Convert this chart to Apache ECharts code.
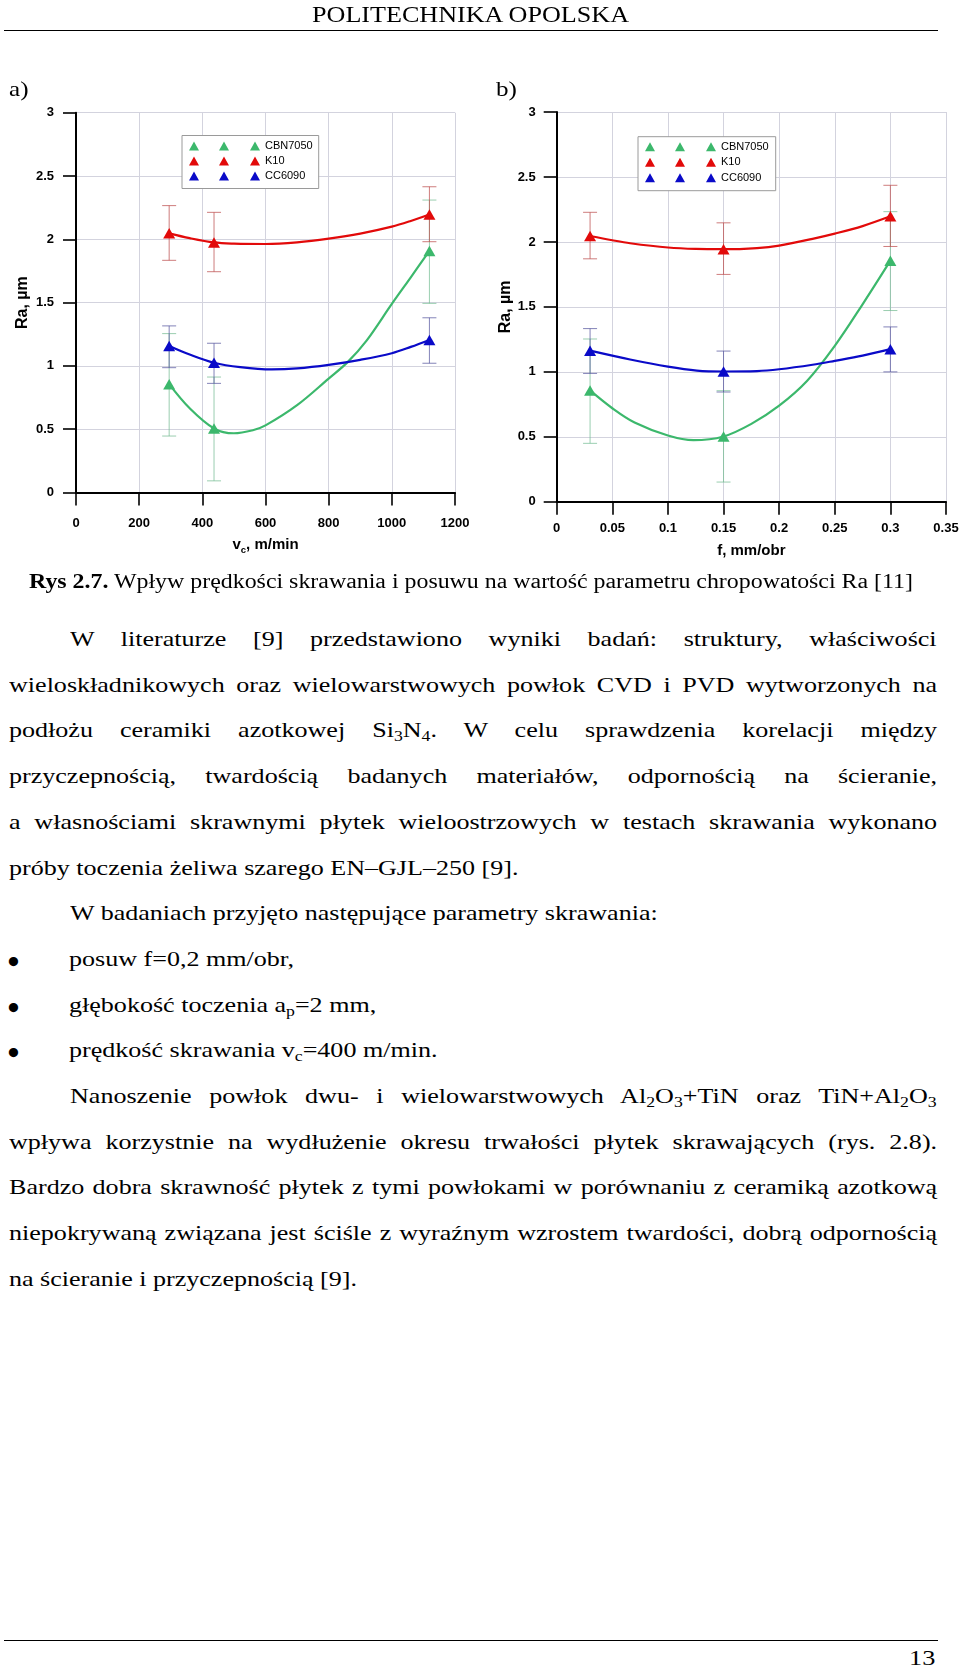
<!DOCTYPE html>
<html>
<head>
<meta charset="utf-8">
<script src="https://cdn.jsdelivr.net/npm/echarts@6/dist/echarts.min.js"></script>
<style>
  html, body { margin: 0; padding: 0; background: #fff; }
  #page { position: relative; width: 960px; height: 1668px; overflow: hidden; background: #fff;
          font-family: 'Liberation Serif', 'Times New Roman', serif; color: #000; }
  #chart { position: absolute; left: 0; top: 0; width: 960px; height: 600px; }
  .t { position: absolute; line-height: 1; white-space: nowrap; transform-origin: 0 0; }
  .t sub { font-size: 0.68em; vertical-align: -0.28em; line-height: 0; }
  .rule { position: absolute; background: #000; height: 1.3px; }
</style>
</head>
<body>
<div id="page">
  <div id="chart"></div>
  <div class="rule" style="left:4px; top:29.5px; width:934px;"></div>
  <div class="rule" style="left:4px; top:1640px; width:934px;"></div>
</div>
<script>
// ---------------- DATA ----------------
const seriesNames = ['CBN7050', 'K10', 'CC6090'];

// chart a) : Ra vs cutting speed vc [m/min]
const vcX = [295, 437, 1119];
const raVcCBN = [0.856, 0.506, 1.908];
const raVcK10 = [2.047, 1.975, 2.196];
const raVcCC  = [1.158, 1.025, 1.205];
const errVcCBN = [[0.446, 1.255], [0.092, 0.912], [1.494, 2.31]];
const errVcK10 = [[1.834, 2.266], [1.744, 2.213], [1.981, 2.415]];
const errVcCC  = [[0.986, 1.316], [0.862, 1.179], [1.021, 1.38]];
const curveVcCBN = [[295,0.856],[360,0.665],[437,0.506],[500,0.468],[560,0.492],[600,0.53],[700,0.69],[800,0.9],[860,1.03],[920,1.2],[1000,1.49],[1060,1.70],[1119,1.908]];
const curveVcK10 = [[295,2.047],[360,2.009],[437,1.975],[500,1.966],[600,1.963],[700,1.976],[800,2.005],[900,2.045],[1000,2.1],[1060,2.145],[1119,2.196]];
const curveVcCC  = [[295,1.158],[360,1.09],[437,1.025],[520,0.99],[620,0.972],[700,0.98],[800,1.008],[900,1.048],[1000,1.1],[1060,1.15],[1119,1.205]];

// chart b) : Ra vs feed f [mm/obr]
const fX = [0.03, 0.15, 0.3];
const raFCBN = [0.857, 0.503, 1.856];
const raFK10 = [2.046, 1.944, 2.197];
const raFCC  = [1.163, 1.003, 1.175];
const errFCBN = [[0.45, 1.253], [0.152, 0.855], [1.472, 2.233]];
const errFK10 = [[1.87, 2.228], [1.75, 2.147], [1.965, 2.436]];
const errFCC  = [[0.988, 1.333], [0.845, 1.16], [1.0, 1.346]];
const curveFCBN = [[0.03,0.857],[0.05,0.72],[0.07,0.61],[0.1,0.51],[0.123,0.474],[0.15,0.503],[0.175,0.6],[0.2,0.74],[0.225,0.93],[0.25,1.2],[0.275,1.52],[0.3,1.856]];
const curveFK10 = [[0.03,2.046],[0.05,2.013],[0.066,1.99],[0.1,1.957],[0.125,1.946],[0.15,1.944],[0.18,1.953],[0.2,1.972],[0.23,2.024],[0.25,2.064],[0.275,2.122],[0.3,2.197]];
const curveFCC  = [[0.03,1.163],[0.066,1.095],[0.1,1.04],[0.126,1.01],[0.15,1.003],[0.18,1.006],[0.2,1.02],[0.23,1.055],[0.25,1.085],[0.275,1.125],[0.3,1.175]];

// axis ticks
const vcTicks = { min: 0, max: 1200, interval: 200 };
const fTicks  = { min: 0, max: 0.35, interval: 0.05 };
const raTicks = { min: 0, max: 3, interval: 0.5 };

// ---------------- STYLE ----------------
const SANS = "'Liberation Sans', Arial, Helvetica, sans-serif";
const colors = { CBN7050: '#3cb86c', K10: '#e20a0a', CC6090: '#0a0ac8' };
const errColors = { CBN7050: 'rgba(120,190,150,0.75)', K10: 'rgba(190,80,80,0.75)', CC6090: 'rgba(90,90,160,0.75)' };
const plainNum = v => String(Math.round(v * 1000) / 1000);

function xAxisCfg(grid, t, name, nameGap, margin) {
  return {
    gridIndex: grid, type: 'value', min: t.min, max: t.max, interval: t.interval,
    name: name, nameLocation: 'middle', nameGap: nameGap,
    nameTextStyle: {
      rich: {
        b: { fontSize: 15, fontWeight: 'bold', fontFamily: SANS, color: '#000' },
        s: { fontSize: 9.5, fontWeight: 'bold', fontFamily: SANS, color: '#000', verticalAlign: 'bottom', padding: [0, 0, -3, 0] }
      }
    },
    axisLine: { show: true, onZero: false, lineStyle: { color: '#000', width: 2 } },
    axisTick: { show: true, inside: false, length: 13, lineStyle: { color: '#000', width: 1.6 } },
    axisLabel: { color: '#000', fontSize: 13, fontWeight: 'bold', fontFamily: SANS, margin: margin, formatter: plainNum },
    splitLine: { show: true, lineStyle: { color: '#d3d3de', width: 1 } }
  };
}
function yAxisCfg(grid, t, nameGap, margin) {
  return {
    gridIndex: grid, type: 'value', min: t.min, max: t.max, interval: t.interval,
    name: 'Ra, µm', nameLocation: 'middle', nameGap: nameGap, nameRotate: 90,
    nameTextStyle: { fontSize: 16, fontWeight: 'bold', fontFamily: SANS, color: '#000' },
    axisLine: { show: true, onZero: false, lineStyle: { color: '#000', width: 2 } },
    axisTick: { show: true, inside: false, length: 13, lineStyle: { color: '#000', width: 1.6 } },
    axisLabel: { color: '#000', fontSize: 13, fontWeight: 'bold', fontFamily: SANS, margin: margin, formatter: plainNum },
    splitLine: { show: true, lineStyle: { color: '#d3d3de', width: 1 } }
  };
}

function pointsSeries(name, xs, ys, idx) {
  return {
    type: 'scatter', name: name, xAxisIndex: idx, yAxisIndex: idx, z: 4,
    symbol: 'triangle', symbolSize: [12, 10.5],
    itemStyle: { color: colors[name], opacity: 1 },
    data: xs.map((x, i) => [x, ys[i]]),
    silent: true
  };
}
function curveSeries(name, pts, idx) {
  return {
    type: 'line', name: name + ' fit', xAxisIndex: idx, yAxisIndex: idx, z: 3,
    showSymbol: false, symbol: 'none', smooth: 0.35,
    lineStyle: { color: colors[name], width: 2.2 },
    data: pts, silent: true
  };
}
function errSeries(name, xs, errs, idx) {
  const col = errColors[name];
  return {
    type: 'custom', name: name + ' err', xAxisIndex: idx, yAxisIndex: idx, z: 1, silent: true,
    encode: { x: 0, y: [1, 2] },
    data: xs.map((x, i) => [x, errs[i][0], errs[i][1]]),
    renderItem: function (params, api) {
      const x = api.value(0);
      const lo = api.coord([x, api.value(1)]);
      const hi = api.coord([x, api.value(2)]);
      const hw = 7;
      const st = { stroke: col, lineWidth: 1 };
      return {
        type: 'group',
        children: [
          { type: 'line', shape: { x1: lo[0], y1: lo[1], x2: hi[0], y2: hi[1] }, style: st },
          { type: 'line', shape: { x1: hi[0] - hw, y1: hi[1], x2: hi[0] + hw, y2: hi[1] }, style: st },
          { type: 'line', shape: { x1: lo[0] - hw, y1: lo[1], x2: lo[0] + hw, y2: lo[1] }, style: st }
        ]
      };
    }
  };
}

const legendIcon = 'path://M0,9L5,0L10,9Z M30,9L35,0L40,9Z M61,9L66,0L71,9Z';
function legendCfg(left, top, gap, padding) {
  return {
    orient: 'vertical', left: left, top: top, data: seriesNames,
    icon: legendIcon, itemWidth: 71, itemHeight: 9, itemGap: gap,
    padding: padding, borderColor: '#9a9a9a', borderWidth: 1, backgroundColor: '#fff',
    selectedMode: false,
    textStyle: { fontSize: 11, fontFamily: SANS, color: '#000' }
  };
}

const chart = echarts.init(document.getElementById('chart'), null, { renderer: 'canvas' });
chart.setOption({
  animation: false,
  grid: [
    { left: 76, top: 112.7, width: 379, height: 379.8, outerBoundsMode: 'none', containLabel: false },
    { left: 556.7, top: 112, width: 389.3, height: 389.8, outerBoundsMode: 'none', containLabel: false }
  ],
  xAxis: [
    xAxisCfg(0, vcTicks, '{b|v}{s|c}{b|, m/min}', 45, 24),
    xAxisCfg(1, fTicks, '{b|f, mm/obr}', 42, 20)
  ],
  yAxis: [
    yAxisCfg(0, raTicks, 45, 22),
    yAxisCfg(1, raTicks, 43, 21)
  ],
  legend: [
    legendCfg(182, 135.5, 4, [5, 6, 7, 7]),
    legendCfg(638, 136.7, 4.5, [4.5, 7, 7.5, 7])
  ],
  series: [
    errSeries('CBN7050', vcX, errVcCBN, 0),
    errSeries('K10', vcX, errVcK10, 0),
    errSeries('CC6090', vcX, errVcCC, 0),
    curveSeries('CBN7050', curveVcCBN, 0),
    curveSeries('K10', curveVcK10, 0),
    curveSeries('CC6090', curveVcCC, 0),
    pointsSeries('CBN7050', vcX, raVcCBN, 0),
    pointsSeries('K10', vcX, raVcK10, 0),
    pointsSeries('CC6090', vcX, raVcCC, 0),

    errSeries('CBN7050', fX, errFCBN, 1),
    errSeries('K10', fX, errFK10, 1),
    errSeries('CC6090', fX, errFCC, 1),
    curveSeries('CBN7050', curveFCBN, 1),
    curveSeries('K10', curveFK10, 1),
    curveSeries('CC6090', curveFCC, 1),
    pointsSeries('CBN7050', fX, raFCBN, 1),
    pointsSeries('K10', fX, raFK10, 1),
    pointsSeries('CC6090', fX, raFCC, 1)
  ]
});

// ---------------- PAGE TEXT ----------------
const page = document.getElementById('page');
function addText(html, left, baseline, fs) {
  const el = document.createElement('div');
  el.className = 't';
  el.innerHTML = html;
  el.style.fontSize = fs + 'px';
  el.style.left = left + 'px';
  el.style.top = (baseline - 0.8375 * fs) + 'px';
  page.appendChild(el);
  return el;
}
function natW(el) { return el.getBoundingClientRect().width; }

// caption
const cap = addText('<b>Rys 2.7.</b> Wpływ prędkości skrawania i posuwu na wartość parametru chropowatości Ra [11]', 29, 587.7, 20);
const S = 884 / natW(cap);
cap.style.transform = 'scaleX(' + S + ')';

const hdr = addText('POLITECHNIKA OPOLSKA', 312, 22.3, 23);
hdr.style.transform = 'scaleX(' + (317 / natW(hdr)) + ')';

const la = addText('a)', 9, 96.5, 21); la.style.transform = 'scaleX(' + S + ')';
const lb = addText('b)', 496, 96.5, 21); lb.style.transform = 'scaleX(' + S + ')';

const RIGHT = 936.6;
const B0 = 646.7, STEP = 45.69, FS = 21;
const bodyLines = [
  { x: 70,  j: true,  h: 'W literaturze [9] przedstawiono wyniki badań: struktury, właściwości' },
  { x: 8.5, j: true,  h: 'wieloskładnikowych oraz wielowarstwowych powłok CVD i PVD wytworzonych na' },
  { x: 8.5, j: true,  h: 'podłożu ceramiki azotkowej Si<sub>3</sub>N<sub>4</sub>. W celu sprawdzenia korelacji między' },
  { x: 8.5, j: true,  h: 'przyczepnością, twardością badanych materiałów, odpornością na ścieranie,' },
  { x: 8.5, j: true,  h: 'a własnościami skrawnymi płytek wieloostrzowych w testach skrawania wykonano' },
  { x: 8.5, j: false, h: 'próby toczenia żeliwa szarego EN–GJL–250 [9].' },
  { x: 70,  j: false, h: 'W badaniach przyjęto następujące parametry skrawania:' },
  { x: 69,  j: false, b: true, h: 'posuw f=0,2 mm/obr,' },
  { x: 69,  j: false, b: true, h: 'głębokość toczenia a<sub>p</sub>=2 mm,' },
  { x: 69,  j: false, b: true, h: 'prędkość skrawania v<sub>c</sub>=400 m/min.' },
  { x: 70,  j: true,  h: 'Nanoszenie powłok dwu- i wielowarstwowych Al<sub>2</sub>O<sub>3</sub>+TiN oraz TiN+Al<sub>2</sub>O<sub>3</sub>' },
  { x: 8.5, j: true,  h: 'wpływa korzystnie na wydłużenie okresu trwałości płytek skrawających (rys. 2.8).' },
  { x: 8.5, j: true,  h: 'Bardzo dobra skrawność płytek z tymi powłokami w porównaniu z ceramiką azotkową' },
  { x: 8.5, j: true,  h: 'niepokrywaną związana jest ściśle z wyraźnym wzrostem twardości, dobrą odpornością' },
  { x: 8.5, j: false, h: 'na ścieranie i przyczepnością [9].' }
];
// horizontal stretch of body text, fitted on the last (unjustified) line
const probe = addText(bodyLines[14].h, 8.5, -100, FS);
const SB = 348 / natW(probe);
probe.remove();

bodyLines.forEach((ln, i) => {
  const base = B0 + i * STEP;
  const el = addText(ln.h, ln.x, base, FS);
  if (ln.j) {
    const w = natW(el);
    const target = RIGHT - ln.x;
    const s = Math.min(SB, target / w);
    const spaces = (el.textContent.match(/ /g) || []).length;
    const extra = (target / s - w) / Math.max(1, spaces);
    el.style.wordSpacing = extra + 'px';
    el.style.transform = 'scaleX(' + s + ')';
  } else {
    el.style.transform = 'scaleX(' + SB + ')';
  }
  if (ln.b) {
    addText('<b>•</b>', 7.5, base + 7, 34);
  }
});

const pn = addText('13', 0, 1665, 22);
const pw = natW(pn) * S;
pn.style.left = (935 - pw) + 'px';
pn.style.transform = 'scaleX(' + S + ')';
</script>
</body>
</html>
